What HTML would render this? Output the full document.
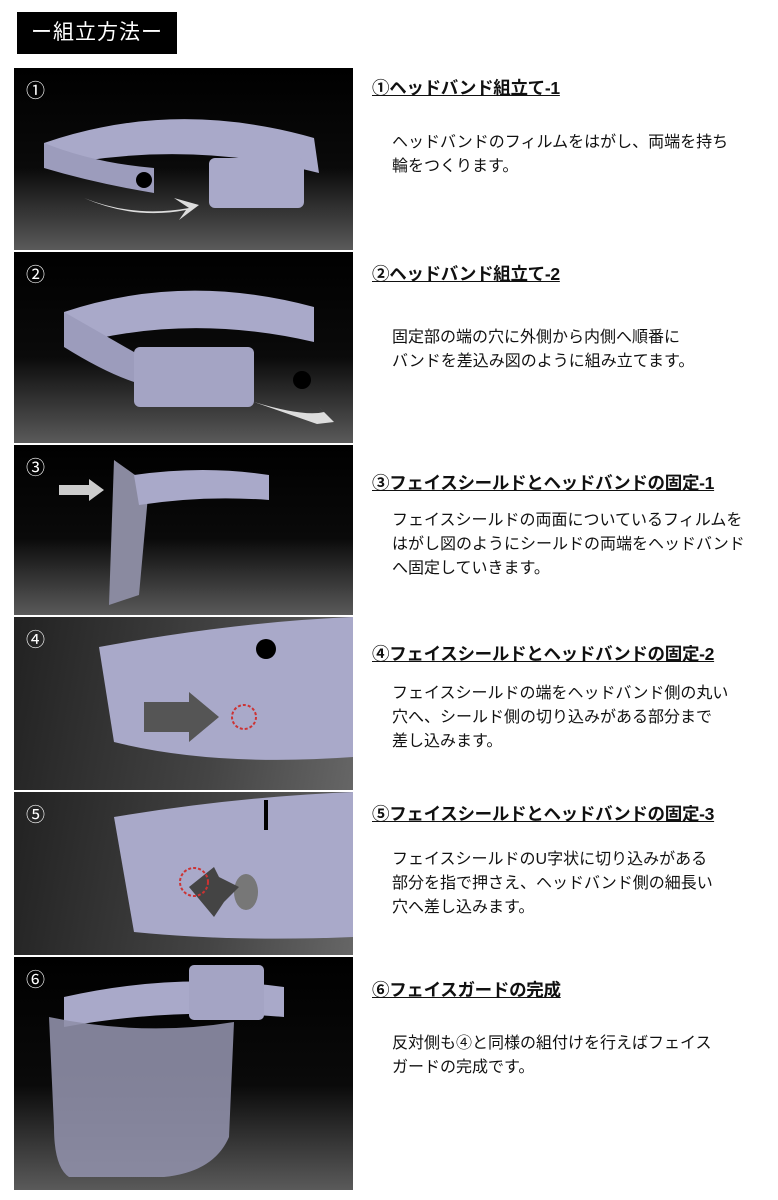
<!DOCTYPE html>
<html><head><meta charset="utf-8"><style>
body{margin:0;width:778px;height:1200px;background:#fff;position:relative;overflow:hidden;font-family:"Liberation Sans","Noto Sans CJK JP",sans-serif;}
.t{position:absolute;left:17px;top:12px;width:160px;height:42px;background:#000;color:#fff;font-size:21px;line-height:42px;text-align:center;letter-spacing:1px;}
.p{position:absolute;left:14px;width:339px;background:linear-gradient(#000 0%,#0a0a0a 55%,#5a5a5a 100%);overflow:hidden;}
.n{position:absolute;left:12px;top:8px;color:#fff;font-size:19px;}
.h{position:absolute;left:372px;font-size:17.5px;font-weight:bold;text-decoration:underline;color:#111;white-space:nowrap;letter-spacing:-0.3px;}
.b{position:absolute;left:392px;font-size:16px;line-height:24px;color:#111;white-space:nowrap;}
svg{position:absolute;left:0;top:0;}
</style></head><body>
<div class="t">ー組立方法ー</div>

<div class="p" style="top:68px;height:182px;"><div class="n">①</div>
<svg width="339" height="182"><path d="M30 75 Q160 30 300 70 L305 105 Q170 70 30 100 Z" fill="#a9a9c9"/><path d="M30 75 L30 100 Q80 115 140 125 L140 100 Q80 95 30 75Z" fill="#9c9cbc"/><rect x="195" y="90" width="95" height="50" rx="6" fill="#a9a9c9"/><circle cx="130" cy="112" r="8" fill="#000"/><path d="M70 130 Q120 150 175 140 L160 130 L185 137 L165 152 L172 142 Q120 152 70 130Z" fill="#ddd"/></svg></div>

<div class="p" style="top:252px;height:191px;"><div class="n">②</div>
<svg width="339" height="191"><path d="M50 60 Q170 20 300 55 L300 90 Q170 60 50 95 Z" fill="#a9a9c9"/><path d="M50 60 L50 95 Q90 120 120 130 L120 100Z" fill="#9c9cbc"/><rect x="120" y="95" width="120" height="60" rx="6" fill="#a4a4c4"/><circle cx="288" cy="128" r="9" fill="#000"/><path d="M240 150 Q290 165 310 160 L305 155 L320 170 L303 172 Z" fill="#ddd"/></svg></div>

<div class="p" style="top:445px;height:170px;"><div class="n">③</div>
<svg width="339" height="170"><path d="M100 15 L135 40 L125 150 L95 160 Z" fill="#8a8aa0"/><path d="M120 30 Q190 20 255 30 L255 55 Q190 50 125 60Z" fill="#a9a9c9"/><path d="M45 40 L75 40 L75 34 L90 45 L75 56 L75 50 L45 50Z" fill="#ccc"/></svg></div>

<div class="p" style="top:617px;height:173px;background:linear-gradient(100deg,#222,#444 60%,#666);"><div class="n">④</div>
<svg width="339" height="173"><path d="M85 30 Q220 5 339 0 L339 140 Q200 150 100 125Z" fill="#a9a9c9"/><circle cx="252" cy="32" r="10" fill="#000"/><path d="M130 85 L175 85 L175 75 L205 100 L175 125 L175 115 L130 115Z" fill="#555"/><circle cx="230" cy="100" r="12" fill="none" stroke="#c33" stroke-width="2" stroke-dasharray="3 2"/></svg></div>

<div class="p" style="top:792px;height:163px;background:linear-gradient(100deg,#222,#444 60%,#666);"><div class="n">⑤</div>
<svg width="339" height="163"><path d="M100 25 Q220 5 339 0 L339 145 Q220 150 120 140Z" fill="#a9a9c9"/><rect x="250" y="8" width="4" height="30" fill="#000"/><ellipse cx="232" cy="100" rx="12" ry="18" fill="#777"/><path d="M175 95 L200 75 L205 85 L225 95 L210 110 L200 125 Z" fill="#444"/><circle cx="180" cy="90" r="14" fill="none" stroke="#c33" stroke-width="2" stroke-dasharray="3 2"/></svg></div>

<div class="p" style="top:957px;height:233px;"><div class="n">⑥</div>
<svg width="339" height="233"><path d="M50 40 Q160 15 270 30 L270 60 Q160 50 50 70Z" fill="#a9a9c9"/><rect x="175" y="8" width="75" height="55" rx="5" fill="#a4a4c4"/><path d="M35 60 Q130 80 220 65 L215 180 Q200 215 150 220 L55 220 Q40 210 40 170Z" fill="#8f8fa8" opacity="0.9"/></svg></div>

<div class="h" style="top:75px;">①ヘッドバンド組立て-1</div>
<div class="b" style="top:131px;">ヘッドバンドのフィルムをはがし、両端を持ち<br>輪をつくります。</div>
<div class="h" style="top:261px;">②ヘッドバンド組立て-2</div>
<div class="b" style="top:326px;">固定部の端の穴に外側から内側へ順番に<br>バンドを差込み図のように組み立てます。</div>
<div class="h" style="top:470px;">③フェイスシールドとヘッドバンドの固定-1</div>
<div class="b" style="top:509px;">フェイスシールドの両面についているフィルムを<br>はがし図のようにシールドの両端をヘッドバンド<br>へ固定していきます。</div>
<div class="h" style="top:641px;">④フェイスシールドとヘッドバンドの固定-2</div>
<div class="b" style="top:682px;">フェイスシールドの端をヘッドバンド側の丸い<br>穴へ、シールド側の切り込みがある部分まで<br>差し込みます。</div>
<div class="h" style="top:801px;">⑤フェイスシールドとヘッドバンドの固定-3</div>
<div class="b" style="top:848px;">フェイスシールドのU字状に切り込みがある<br>部分を指で押さえ、ヘッドバンド側の細長い<br>穴へ差し込みます。</div>
<div class="h" style="top:977px;">⑥フェイスガードの完成</div>
<div class="b" style="top:1032px;">反対側も④と同様の組付けを行えばフェイス<br>ガードの完成です。</div>
</body></html>
